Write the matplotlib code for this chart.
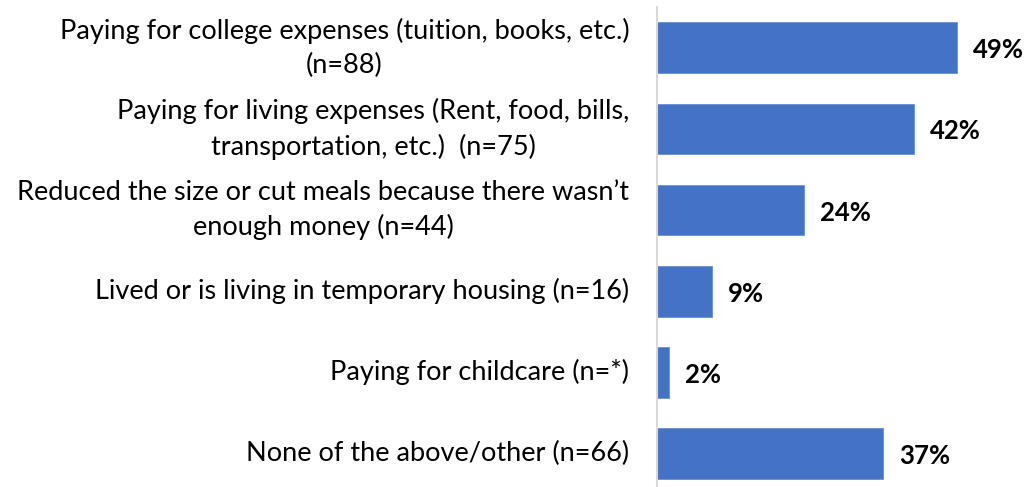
import matplotlib
matplotlib.use('Agg')
import matplotlib.pyplot as plt
import numpy as np

labels = [
  'Paying for college expenses (tuition, books, etc.)\n(n=88)',
  'Paying for living expenses (Rent, food, bills,\ntransportation, etc.)  (n=75)',
  'Reduced the size or cut meals because there wasn\u2019t\nenough money (n=44)',
  'Lived or is living in temporary housing (n=16)',
  'Paying for childcare (n=*)',
  'None of the above/other (n=66)',
]
values = [49, 42, 24, 9, 2, 37]

plt.rcParams['font.family'] = ['Lato', 'DejaVu Sans']

fig = plt.figure(figsize=(10.26, 4.87), dpi=100)
ax = fig.add_axes([657/1026, -0.0144, 1 - 657/1026, 0.9995])

y = np.arange(len(values))
ax.barh(y, values, height=0.625, color='#4472C4', edgecolor='#6a8fd6', linewidth=0.6)
ax.set_ylim(len(values) - 0.5, -0.5)
ax.set_xlim(0, 369/6.12)

for yi, v in zip(y, values):
  ax.text(v + 2.6, yi + 0.03, f'{v}%', va='center', ha='left', fontsize=18.5, fontweight='bold', color='black')

ax.set_yticks(y)
ax.set_yticklabels(labels, fontsize=19.5, color='black')
for lbl in ax.get_yticklabels():
  lbl.set_multialignment('center')
  lbl.set_linespacing(1.45)
  lbl.set_verticalalignment('center')
ax.tick_params(axis='y', length=0, pad=20)
ax.set_xticks([])

for s in ['top', 'right', 'bottom']:
  ax.spines[s].set_visible(False)
ax.spines['left'].set_color('#d9d9d9')
ax.spines['left'].set_linewidth(1.5)

fig.savefig('out.png', dpi=100)
